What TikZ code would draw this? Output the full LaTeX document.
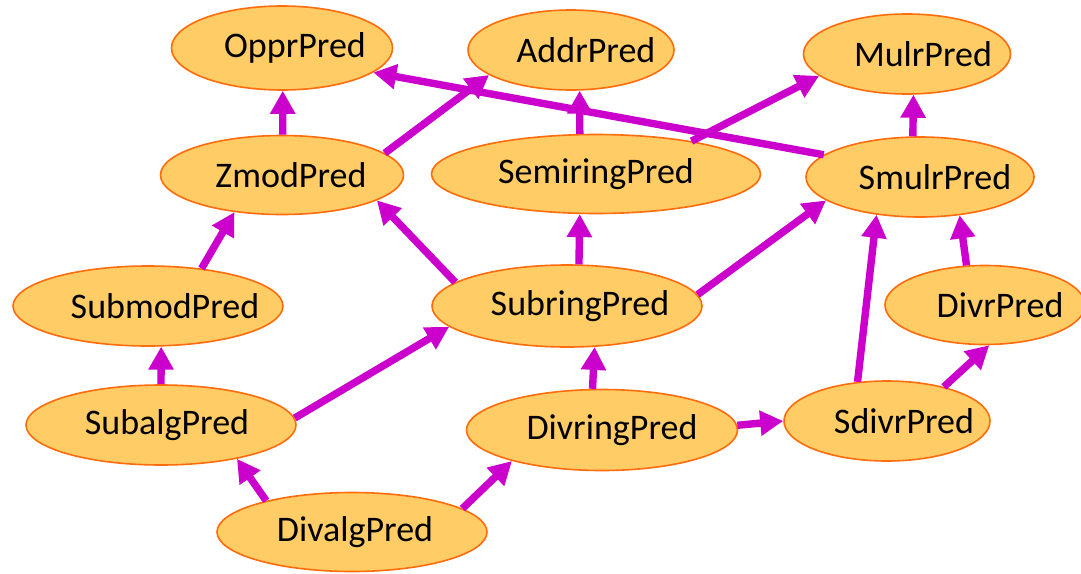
\documentclass[tikz,border=0pt]{standalone}
\usepackage{fontspec}
\setmainfont{Carlito}
\usepackage{tikz}
\usetikzlibrary{shapes.geometric}
\usetikzlibrary{arrows.meta}

\definecolor{predfill}{RGB}{255,204,102}
\definecolor{predline}{RGB}{255,108,12}
\definecolor{impl}{RGB}{204,0,204}

% name of a predicate, set a little right of the centre
\newcommand{\predname}[2][0]{\makebox[0pt]{\hspace*{#1pt}#2}}

\begin{document}
\begin{tikzpicture}[x=.5pt, y=-.5pt,
    pred/.style={ellipse, draw=predline, fill=predfill, line width=.8pt,
        inner sep=0pt, font=\fontsize{18}{22}\selectfont},
    imp/.style={draw=impl, line width=3.7pt,
        -{Triangle[length=11.5pt,width=12pt]}}]
    \useasboundingbox (0,0) rectangle (1081,573);

    % top row
    \node[pred, minimum width=110.5pt, minimum height=42pt] (oppr) at (282,48) {\predname[13]{OpprPred}};
    \node[pred, minimum width=103pt, minimum height=40pt] (addr) at (571,50) {\predname[15]{AddrPred}};
    \node[pred, minimum width=103.5pt, minimum height=40pt] (mulr) at (907,54) {\predname[16]{MulrPred}};
    % second row
    \node[pred, minimum width=121.5pt, minimum height=39.5pt] (zmod) at (282,175) {\predname[9]{ZmodPred}};
    \node[pred, minimum width=164.5pt, minimum height=39.5pt] (semiring) at (596,174) {\predname{SemiringPred}};
    \node[pred, minimum width=114pt, minimum height=40pt] (smulr) at (920,177) {\predname[15]{SmulrPred}};
    % third row
    \node[pred, minimum width=135pt, minimum height=40pt] (submod) at (148,306) {\predname[17]{SubmodPred}};
    \node[pred, minimum width=135pt, minimum height=41pt] (subring) at (567,306) {\predname[13]{SubringPred}};
    \node[pred, minimum width=100pt, minimum height=39.5pt] (divr) at (985,305) {\predname[15]{DivrPred}};
    % bottom rows
    \node[pred, minimum width=135pt, minimum height=40pt] (subalg) at (161,425) {\predname[6]{SubalgPred}};
    \node[pred, minimum width=135.5pt, minimum height=40.5pt] (divring) at (602,430) {\predname[10]{DivringPred}};
    \node[pred, minimum width=103pt, minimum height=40pt] (sdivr) at (887,421) {\predname[17]{SdivrPred}};
    \node[pred, minimum width=135pt, minimum height=39.5pt] (divalg) at (352,532) {\predname[3]{DivalgPred}};

    % inclusions between the predicates
    \foreach \a/\b in {zmod.89/oppr.271, zmod.12/addr.197,
        semiring.112/addr.282, semiring.19/mulr.194,
        smulr.167/oppr.345, smulr.100/mulr.279,
        submod.35/zmod.218, subring.168/zmod.345,
        subring.74/semiring.248, subring.5/smulr.194,
        subalg.90/submod.288, subalg.3/subring.190,
        divring.103/subring.304, divring.2/sdivr.180,
        sdivr.127/smulr.221, sdivr.31/divr.276,
        divr.115/smulr.316,
        divalg.160/subalg.336, divalg.12/divring.199} {
        \draw[imp] (\a) -- (\b);
    }
\end{tikzpicture}
\end{document}
